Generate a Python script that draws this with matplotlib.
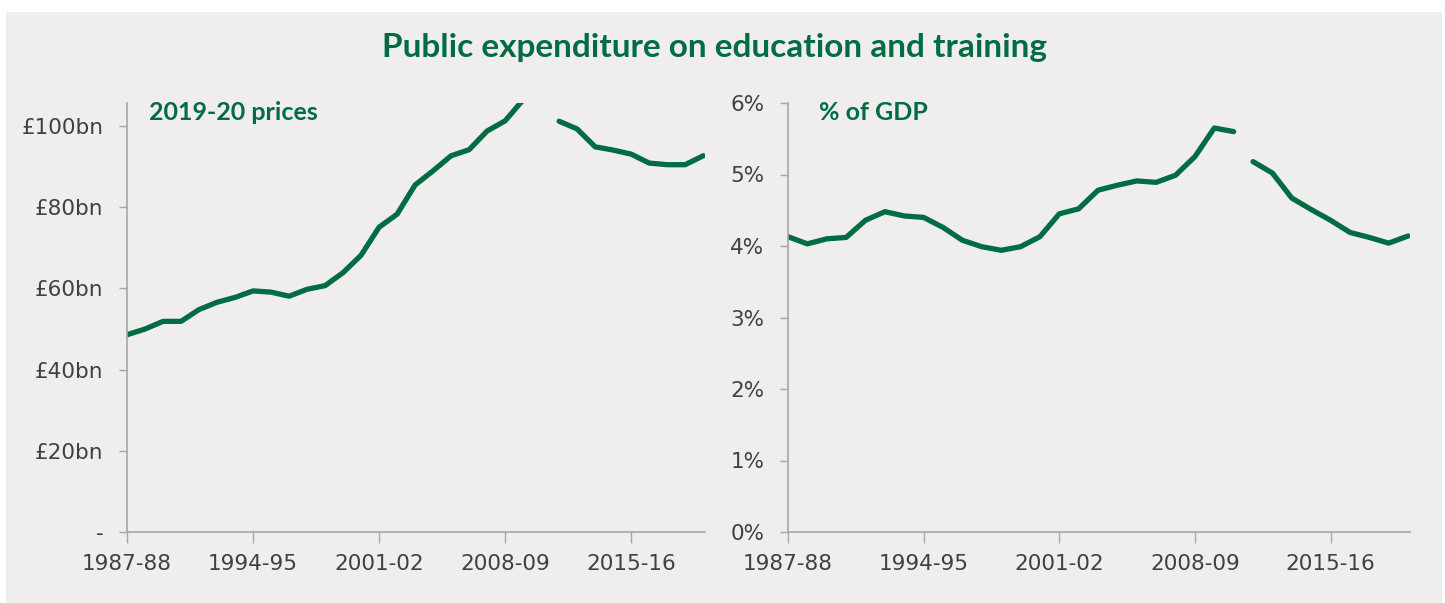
import matplotlib.pyplot as plt
from matplotlib.patches import Rectangle

GREEN = "#006B47"
BG = "#EFEEEC"
TXT = "#404040"
SPINE = "#A6A6A6"

# Fiscal years 1987-88 ... 2019-20
years = [f"{y}-{(y + 1) % 100:02d}" for y in range(1987, 2020)]
tick_years = ["1987-88", "1994-95", "2001-02", "2008-09", "2015-16"]

# Spending in 2019-20 prices (£bn); series break between 2010-11 and 2011-12
spend_real = [48.6, 50.0, 51.9, 51.9, 54.8, 56.6, 57.8, 59.4, 59.1, 58.1,
              59.8, 60.7, 63.9, 68.2, 75.1, 78.3, 85.5, 89.0, 92.7, 94.2,
              98.8, 101.3, 106.5, 107.5, 101.2, 99.3, 94.9, 94.1, 93.1, 90.9,
              90.5, 90.5, 92.7]

# Spending as % of GDP
spend_gdp = [4.13, 4.03, 4.10, 4.12, 4.36, 4.48, 4.42, 4.40, 4.26, 4.08,
             3.99, 3.94, 3.99, 4.13, 4.45, 4.52, 4.78, 4.85, 4.91, 4.89,
             4.99, 5.25, 5.65, 5.60, 5.18, 5.02, 4.67, 4.51, 4.36, 4.19,
             4.12, 4.04, 4.14]

break_at = 24  # first year after the series break

left_ticks = [0, 20, 40, 60, 80, 100]
left_labels = ["-", "£20bn", "£40bn", "£60bn", "£80bn", "£100bn"]
right_ticks = [0, 1, 2, 3, 4, 5, 6]
right_labels = [f"{t}%" for t in right_ticks]

plt.rcParams["font.family"] = ["DejaVu Sans"]

fig = plt.figure(figsize=(14.45, 6.03), dpi=100, facecolor="white")
fig.patches.append(Rectangle((6 / 1445, 0), 1436 / 1445, 591 / 603,
                             transform=fig.transFigure, facecolor=BG,
                             edgecolor="none", zorder=-10))

fig.text(0.4948, 1 - 47 / 603, "Public expenditure on education and training",
         ha="center", va="center", fontsize=24, fontweight="bold",
         color=GREEN, family=["Lato", "DejaVu Sans"])

bottom = 1 - 532 / 603
height = (532 - 103) / 603
ax1 = fig.add_axes([127 / 1445, bottom, 578 / 1445, height])
ax2 = fig.add_axes([788 / 1445, bottom, 622 / 1445, height])

x = list(range(len(years)))
panels = [
    (ax1, spend_real, (0, 105.7), left_ticks, left_labels, "2019-20 prices", 0.038),
    (ax2, spend_gdp, (0, 6), right_ticks, right_labels, "% of GDP", 0.05),
]

for ax, vals, ylim, yt, yl, label, lx in panels:
    ax.set_facecolor("none")
    for part in (slice(0, break_at), slice(break_at, None)):
        ax.plot(x[part], vals[part], color=GREEN, lw=3.8,
                solid_capstyle="round", solid_joinstyle="round")
    ax.set_xlim(0, 32.1)
    ax.set_ylim(*ylim)
    ax.set_yticks(yt)
    ax.set_yticklabels(yl)
    ax.set_xticks([years.index(t) for t in tick_years])
    ax.set_xticklabels(tick_years)
    for s in ("top", "right"):
        ax.spines[s].set_visible(False)
    for s in ("left", "bottom"):
        ax.spines[s].set_color(SPINE)
        ax.spines[s].set_linewidth(1.2)
    ax.tick_params(axis="y", length=6, width=1, color=SPINE, labelsize=15.5,
                   labelcolor=TXT, pad=11)
    ax.tick_params(axis="x", length=8, width=1, color=SPINE, labelsize=15.5,
                   labelcolor=TXT, pad=8)
    ax.text(lx, 1.005, label, transform=ax.transAxes, ha="left", va="top",
            fontsize=18, fontweight="bold", color=GREEN,
            family=["Lato", "DejaVu Sans"])

fig.savefig("out.png", dpi=100, facecolor="white")
